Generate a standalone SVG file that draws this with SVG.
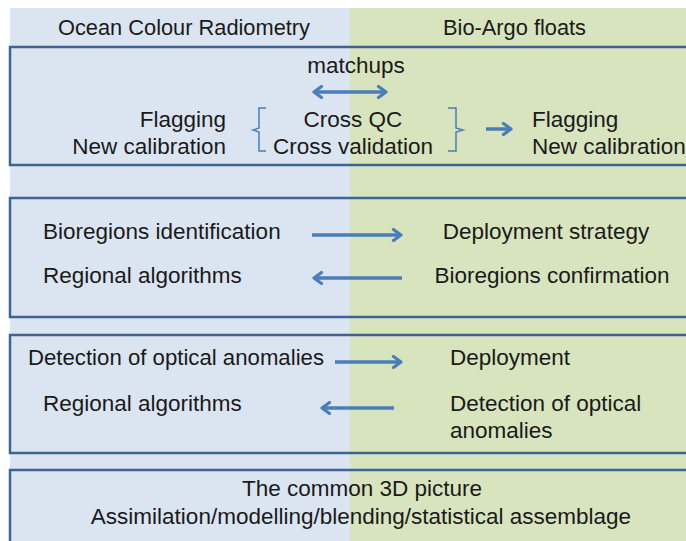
<svg xmlns="http://www.w3.org/2000/svg" width="686" height="541" viewBox="0 0 686 541">
<defs>
<style>
.t{font-family:"Liberation Sans",Arial,sans-serif;font-size:22.5px;fill:#1a1a1a}
.m{text-anchor:middle}
.e{text-anchor:end}
.box{fill:none;stroke:#3E6396;stroke-width:2.5}
.ar{stroke:#4A7EBB;stroke-width:3.5;fill:none}
.br{stroke:#4A7EBB;stroke-width:1.5;fill:none}
</style>
<marker id="ah" viewBox="0 0 14 14" refX="10" refY="7" markerWidth="14" markerHeight="14" markerUnits="userSpaceOnUse" orient="auto-start-reverse">
<path d="M2.5,1.5 L10,7 L2.5,12.5" fill="none" stroke="#4A7EBB" stroke-width="3.2" stroke-linecap="round" stroke-linejoin="round"/>
</marker>
</defs>
<rect x="0" y="0" width="686" height="541" fill="#ffffff"/>
<rect x="10" y="8" width="340" height="533" fill="#DBE5F1"/>
<rect x="350" y="8" width="336" height="533" fill="#D7E4BD"/>
<text class="t" x="58" y="35" textLength="252" lengthAdjust="spacingAndGlyphs">Ocean Colour Radiometry</text>
<text class="t" x="443" y="35" textLength="143" lengthAdjust="spacingAndGlyphs">Bio-Argo floats</text>

<g id="box1">
<rect class="box" x="10" y="47" width="690" height="118"/>
<text class="t m" x="356" y="73">matchups</text>
<text class="t e" x="226" y="127">Flagging</text>
<text class="t e" x="226" y="154">New calibration</text>
<text class="t m" x="353" y="127">Cross QC</text>
<text class="t m" x="353" y="154">Cross validation</text>
<text class="t" x="532" y="127">Flagging</text>
<text class="t" x="532" y="154">New calibration</text>
</g>
<g id="box2">
<rect class="box" x="10" y="198" width="690" height="119"/>
<text class="t" x="43" y="239">Bioregions identification</text>
<text class="t" x="43" y="283">Regional algorithms</text>
<text class="t m" x="546" y="239">Deployment strategy</text>
<text class="t m" x="552" y="283">Bioregions confirmation</text>
</g>
<g id="box3">
<rect class="box" x="10" y="335" width="690" height="118"/>
<text class="t" x="28" y="365" textLength="296" lengthAdjust="spacingAndGlyphs">Detection of optical anomalies</text>
<text class="t" x="43" y="411">Regional algorithms</text>
<text class="t" x="450" y="365">Deployment</text>
<text class="t" x="450" y="411">Detection of optical</text>
<text class="t" x="450" y="438">anomalies</text>
</g>
<g id="box4">
<rect class="box" x="10" y="470" width="690" height="90"/>
<text class="t m" x="362" y="496">The common 3D picture</text>
<text class="t m" x="361" y="524">Assimilation/modelling/blending/statistical assemblage</text>
</g>
<g id="connectors">
<line class="ar" x1="314" y1="92" x2="386" y2="92" marker-start="url(#ah)" marker-end="url(#ah)"/>
<path class="br" d="M266,108 L259,108 L259,128 L253,130 L259,132 L259,151 L266,151"/>
<path class="br" d="M448,108 L456,108 L456,128 L463,130 L456,132 L456,151 L448,151"/>
<line class="ar" x1="486" y1="129" x2="511" y2="129" marker-end="url(#ah)"/>
<line class="ar" x1="312" y1="235" x2="401" y2="235" marker-end="url(#ah)"/>
<line class="ar" x1="402" y1="278" x2="314" y2="278" marker-end="url(#ah)"/>
<line class="ar" x1="335" y1="362" x2="401" y2="362" marker-end="url(#ah)"/>
<line class="ar" x1="394" y1="408" x2="322" y2="408" marker-end="url(#ah)"/>
</g>
</svg>
